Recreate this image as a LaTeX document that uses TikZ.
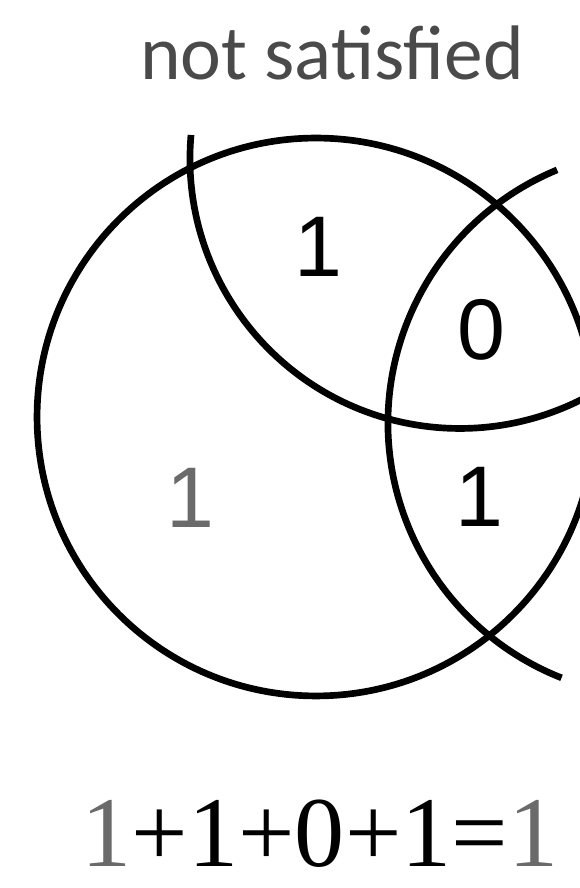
\documentclass[tikz,border=0pt]{standalone}
\usepackage{fontspec}
\newfontfamily\calfont{Carlito}
\newfontfamily\arialfont{Liberation Sans}
\newfontfamily\serfont{Liberation Serif}
\definecolor{txtgray}{HTML}{4A4A4A}
\definecolor{lightnum}{HTML}{6A6A6A}
\begin{document}
\begin{tikzpicture}[x=0.02cm,y=0.02cm,
  curve/.style={line width=3.8pt,black},
  region/.style={font=\arialfont\fontsize{49}{49}\selectfont, anchor=base, inner sep=0pt}]
\useasboundingbox (0,0) rectangle (580,888);
\fill[white] (0,0) rectangle (580,888);
\begin{scope}
\clip (0,0) rectangle (580,888);
% big circle
\draw[curve] (316,471) circle[radius=5.58cm];
% upper arc
\draw[curve] (191,753) arc[start angle=175, end angle=300, radius=5.4cm];
% right arc
\draw[curve] (557.1,718.1) arc[start angle=112.5, end angle=248.5, radius=5.48cm];
\end{scope}
\node[anchor=base, inner sep=0pt, text=txtgray, font=\calfont\fontsize{44}{44}\selectfont] (title) at (332,808) {not satisfied};
\node[region] (top) at (318,611) {1};
\node[region] (zero) at (481,528) {0};
\node[region, text=lightnum] (left) at (190,360) {1};
\node[region] (right) at (479,361) {1};
\node[anchor=base, inner sep=0pt, font=\serfont\fontsize{57}{57}\selectfont] (eq) at (320,21) {\textcolor{lightnum}{1}+1+0+1=\textcolor{lightnum}{1}};
\end{tikzpicture}
\end{document}
